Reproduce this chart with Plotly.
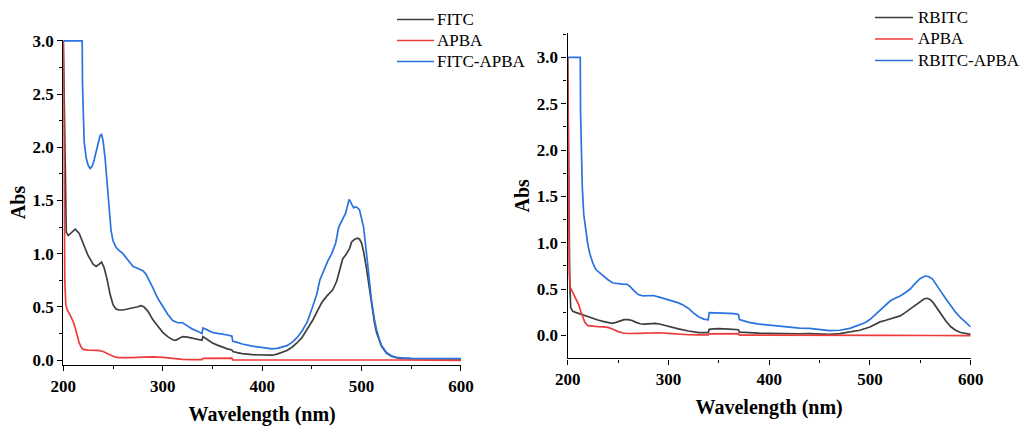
import plotly.graph_objects as go

# ---------------- FITC panel (left) ----------------
fitc_wl = [200, 201, 202, 203, 205, 208, 212, 216, 220, 225, 230, 233, 236, 238.5, 241, 244, 247,
           250, 253, 256, 260, 265, 270, 275, 278, 281, 285, 290, 295, 300, 305, 310, 313, 316,
           320, 325, 330, 335, 339.5, 340.5, 345, 350, 355, 360, 365, 369.5, 370.5, 375, 380,
           390, 400, 410, 415, 420, 425, 430, 435, 440, 445, 451, 455, 460, 465, 471, 475, 478,
           481, 485, 488, 490, 493, 496, 498, 500, 502, 505, 508, 510, 513, 515, 518, 520, 525,
           530, 535, 540, 550, 570, 600]
fitc_abs = [3.0, 2.4, 1.45, 1.2, 1.17, 1.20, 1.23, 1.19, 1.10, 0.98, 0.90, 0.88, 0.90, 0.92, 0.87,
            0.76, 0.62, 0.52, 0.48, 0.47, 0.47, 0.48, 0.485, 0.50, 0.51, 0.50, 0.46, 0.38, 0.32,
            0.26, 0.22, 0.19, 0.185, 0.20, 0.22, 0.215, 0.205, 0.195, 0.185, 0.22, 0.19, 0.16,
            0.14, 0.12, 0.105, 0.095, 0.08, 0.07, 0.06, 0.05, 0.047, 0.045, 0.055, 0.07, 0.09,
            0.12, 0.16, 0.21, 0.28, 0.376, 0.45, 0.54, 0.60, 0.66, 0.74, 0.85, 0.95, 1.0, 1.05,
            1.11, 1.135, 1.145, 1.135, 1.10, 1.02, 0.86, 0.66, 0.52, 0.35, 0.26, 0.17, 0.13,
            0.065, 0.035, 0.022, 0.016, 0.012, 0.01, 0.01]

apba1_wl = [200, 200.7, 201.5, 202.5, 204, 207, 210, 212, 214, 216, 218, 220, 225, 230, 235, 240,
            245, 250, 255, 260, 270, 280, 290, 300, 310, 320, 330, 339.5, 340.5, 355, 369.5,
            370.5, 400, 420, 450, 480, 500, 540, 600]
apba1_abs = [3.0, 1.6, 0.75, 0.52, 0.47, 0.42, 0.36, 0.30, 0.22, 0.16, 0.12, 0.10, 0.093, 0.092,
             0.09, 0.08, 0.055, 0.035, 0.022, 0.02, 0.022, 0.027, 0.03, 0.024, 0.012, 0.006,
             0.004, 0.004, 0.015, 0.014, 0.018, 0.0, 0.0, -0.002, 0.0, 0.003, 0.005, 0.0, -0.003]

fitc_apba_wl = [200, 219, 219.3, 220, 221, 223, 225, 227, 229, 231, 233, 235, 237, 238.5, 240, 242,
                244, 246, 248, 250, 253, 256, 260, 265, 270, 275, 280, 283, 286, 290, 295, 300,
                305, 310, 315, 320, 325, 330, 335, 339.5, 340.5, 345, 350, 355, 360, 365, 369.5,
                370.5, 375, 380, 390, 400, 405, 410, 415, 420, 425, 430, 435, 440, 445, 450, 455,
                458, 462, 466, 470, 474, 477, 480, 484, 487.5, 490, 492, 494, 496, 498, 500, 502,
                505, 508, 510, 513, 515, 518, 520, 525, 530, 535, 540, 550, 570, 600]
fitc_apba_abs = [3.0, 3.0, 2.6, 2.3, 2.05, 1.9, 1.83, 1.80, 1.82, 1.88, 1.96, 2.05, 2.11, 2.12,
                 2.06, 1.9, 1.66, 1.40, 1.22, 1.12, 1.06, 1.03, 1.0, 0.94, 0.88, 0.86, 0.84, 0.81,
                 0.76, 0.68, 0.58, 0.50, 0.43, 0.37, 0.35, 0.35, 0.32, 0.29, 0.27, 0.25, 0.30,
                 0.28, 0.26, 0.25, 0.245, 0.235, 0.225, 0.175, 0.165, 0.15, 0.13, 0.115, 0.11,
                 0.105, 0.11, 0.12, 0.135, 0.165, 0.21, 0.27, 0.35, 0.48, 0.62, 0.75, 0.85, 0.93,
                 1.0, 1.10, 1.25, 1.31, 1.38, 1.51, 1.46, 1.43, 1.44, 1.43, 1.41, 1.34, 1.25, 1.00,
                 0.72, 0.56, 0.38, 0.29, 0.19, 0.14, 0.07, 0.04, 0.026, 0.02, 0.016, 0.015, 0.014]

# ---------------- RBITC panel (right) ----------------
rbitc_wl = [200, 201, 202, 203, 205, 210, 215, 220, 225, 230, 235, 240, 244, 248, 252, 256, 260,
            264, 268, 272, 276, 282, 287, 292, 300, 310, 320, 330, 339.5, 340.5, 345, 350, 360,
            369.5, 370.5, 380, 390, 400, 410, 420, 430, 440, 450, 460, 470, 480, 490, 500, 505,
            510, 515, 520, 525, 530, 535, 540, 545, 550, 554, 557, 560, 563, 566, 570, 575, 580,
            585, 590, 595, 600]
rbitc_abs = [3.0, 1.8, 0.6, 0.3, 0.26, 0.24, 0.22, 0.20, 0.18, 0.165, 0.15, 0.14, 0.13, 0.14,
             0.155, 0.17, 0.17, 0.16, 0.14, 0.125, 0.122, 0.128, 0.13, 0.12, 0.095, 0.07, 0.047,
             0.03, 0.03, 0.065, 0.07, 0.072, 0.066, 0.06, 0.035, 0.026, 0.023, 0.022, 0.018,
             0.015, 0.017, 0.018, 0.013, 0.011, 0.018, 0.033, 0.055, 0.09, 0.12, 0.145, 0.16,
             0.175, 0.19, 0.21, 0.245, 0.285, 0.33, 0.37, 0.395, 0.40, 0.385, 0.35, 0.30, 0.24,
             0.16, 0.095, 0.055, 0.03, 0.017, 0.01]

apba2_wl = [200, 200.8, 201.6, 202.5, 205, 208, 211, 213, 215, 217, 220, 225, 230, 235, 240, 245,
            250, 255, 260, 270, 280, 290, 300, 310, 320, 330, 339.5, 340.5, 355, 369.5, 370.5,
            400, 450, 500, 520, 560, 600]
apba2_abs = [3.0, 1.5, 0.7, 0.52, 0.46, 0.40, 0.33, 0.26, 0.19, 0.14, 0.105, 0.095, 0.093, 0.092,
             0.085, 0.065, 0.04, 0.025, 0.02, 0.022, 0.026, 0.028, 0.022, 0.012, 0.006, 0.004,
             0.004, 0.015, 0.014, 0.018, 0.002, 0.002, 0.004, 0.008, 0.0, -0.002, -0.003]

rbitc_apba_wl = [200, 212.5, 212.8, 213.5, 214.5, 216, 218, 220, 222, 225, 228, 232, 236, 240,
                 245, 250, 255, 259, 262, 266, 270, 275, 280, 285, 290, 295, 300, 305, 310, 315,
                 320, 325, 330, 335, 339.5, 340.5, 345, 350, 355, 360, 365, 369.5, 370.5, 375,
                 380, 390, 400, 410, 420, 430, 440, 450, 460, 465, 470, 480, 490, 495, 500, 505,
                 510, 515, 520, 525, 530, 535, 540, 545, 550, 555, 558, 562, 566, 570, 575, 580,
                 585, 590, 595, 600]
rbitc_apba_abs = [3.0, 3.0, 2.4, 2.0, 1.6, 1.3, 1.12, 0.98, 0.88, 0.78, 0.71, 0.67, 0.635, 0.60,
                  0.565, 0.555, 0.553, 0.55, 0.525, 0.48, 0.44, 0.425, 0.425, 0.43, 0.415, 0.40,
                  0.385, 0.37, 0.35, 0.325, 0.29, 0.24, 0.2, 0.175, 0.168, 0.245, 0.245, 0.245,
                  0.244, 0.238, 0.235, 0.225, 0.17, 0.155, 0.14, 0.122, 0.11, 0.095, 0.085, 0.078,
                  0.075, 0.06, 0.05, 0.052, 0.055, 0.075, 0.11, 0.135, 0.17, 0.22, 0.27, 0.33,
                  0.37, 0.40, 0.425, 0.46, 0.50, 0.56, 0.615, 0.64, 0.635, 0.61, 0.55, 0.48, 0.40,
                  0.32, 0.25, 0.19, 0.14, 0.09]

BLACK = "#3f3f3f"
RED = "#ee3b3b"
BLUE = "#2a72df"
SERIF = "Liberation Serif"
W, H = 1021, 426

left_series = [("FITC", fitc_wl, fitc_abs, BLACK),
               ("APBA", apba1_wl, apba1_abs, RED),
               ("FITC-APBA", fitc_apba_wl, fitc_apba_abs, BLUE)]
right_series = [("RBITC", rbitc_wl, rbitc_abs, BLACK),
                ("APBA", apba2_wl, apba2_abs, RED),
                ("RBITC-APBA", rbitc_apba_wl, rbitc_apba_abs, BLUE)]

fig = go.Figure()

for series, xa, ya in ((left_series, "x", "y"), (right_series, "x2", "y2")):
    for name, wl, ab, color in series:
        fig.add_trace(go.Scatter(x=wl, y=ab, name=name, mode="lines",
                                 line=dict(color=color, width=1.7),
                                 xaxis=xa, yaxis=ya, showlegend=False))

# Key in the top-right corner of each panel (pixel positions of the key rows)
def add_key(series, x0, x1, tx, rows):
    for (name, _, _, color), yy in zip(series, rows):
        fig.add_shape(type="line", xref="paper", yref="paper",
                      x0=x0 / W, x1=x1 / W, y0=1 - yy / H, y1=1 - yy / H,
                      line=dict(color=color, width=1.6))
        fig.add_annotation(text=name, xref="paper", yref="paper", x=tx / W, y=1 - yy / H,
                           xanchor="left", yanchor="middle", showarrow=False,
                           font=dict(family=SERIF, size=17, color="black"))

add_key(left_series, 397, 434, 435, [19.5, 40.5, 61.5])
add_key(right_series, 875, 913, 916, [17.5, 39, 60.5])

tick_font = dict(family=SERIF, size=17, color="black", weight="bold")
title_font = dict(family=SERIF, size=20, color="black", weight="bold")

def xaxis_cfg(domain, anchor):
    return dict(domain=domain, anchor=anchor, range=[200, 600], dtick=100, tick0=200,
                showline=True, linecolor="black", linewidth=1.4, mirror=False,
                ticks="outside", ticklen=5, tickwidth=1.4, tickcolor="black",
                minor=dict(dtick=50, ticks="outside", ticklen=3, tickwidth=1.2, tickcolor="black"),
                showgrid=False, zeroline=False, tickfont=tick_font, automargin=False,
                title=dict(text="Wavelength (nm)", font=title_font, standoff=12))

def yaxis_cfg(domain, anchor, rng):
    return dict(domain=domain, anchor=anchor, range=rng, dtick=0.5, tick0=0, tickformat=".1f",
                showline=True, linecolor="black", linewidth=1.4, mirror=False,
                ticks="outside", ticklen=5, tickwidth=1.4, tickcolor="black",
                minor=dict(dtick=0.25, ticks="outside", ticklen=3, tickwidth=1.2, tickcolor="black"),
                showgrid=False, zeroline=False, tickfont=tick_font, automargin=False,
                title=dict(text="Abs", font=title_font, standoff=1))

fig.update_layout(
    width=W, height=H,
    margin=dict(l=0, r=0, t=0, b=0, autoexpand=False),
    paper_bgcolor="white", plot_bgcolor="white",
    showlegend=False,
    xaxis=xaxis_cfg([0.062, 0.4515], "y"),
    yaxis=yaxis_cfg([0.1432, 0.9061], "x", [-0.047, 3.008]),
    xaxis2=xaxis_cfg([0.556, 0.9507], "y2"),
    yaxis2=yaxis_cfg([0.1589, 0.9218], "x2", [-0.248, 3.26]),
)

fig.write_html("out.html")
